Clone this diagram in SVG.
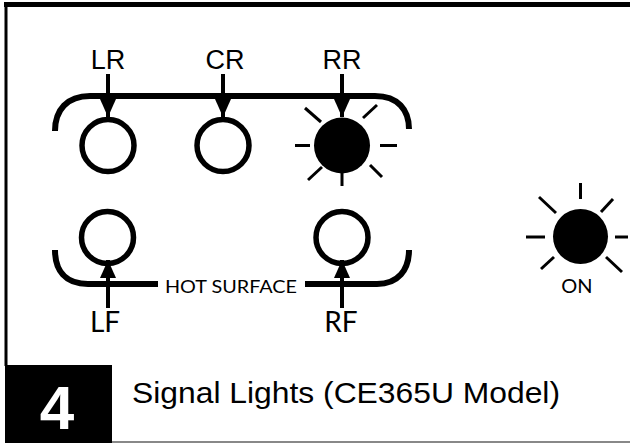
<svg xmlns="http://www.w3.org/2000/svg" width="630" height="443" viewBox="0 0 630 443">
<style>
.ring{fill:none;stroke:#000;stroke-width:5.5}
.lit{fill:#000}
.ray{stroke:#000;stroke-width:3;stroke-linecap:butt}
.br{fill:none;stroke:#000;stroke-width:6}
.ar{stroke:#000;stroke-width:4}
.lbl{font-family:"Liberation Sans",Arial,sans-serif;font-size:27px;fill:#000;text-anchor:middle}
.gil{font-family:Lato,"Open Sans",sans-serif;fill:#000;text-anchor:middle}
</style>
<defs>
<marker id="ah" viewBox="0 0 18 16" refX="18" refY="8" markerWidth="18" markerHeight="16" markerUnits="userSpaceOnUse" orient="auto">
<path d="M0,0 L18,8 L0,16 Z" fill="#000"/>
</marker>
</defs>
<rect width="630" height="443" fill="#fff"/>
<g id="frame">
<line x1="4" y1="4.5" x2="630" y2="4.5" stroke="#000" stroke-width="5"/>
<line x1="6" y1="2" x2="6" y2="366" stroke="#000" stroke-width="3"/>
<rect x="5" y="365" width="107" height="78" fill="#000"/>
<line x1="112" y1="442" x2="630" y2="442" stroke="#888" stroke-width="2"/>
</g>
<g id="brackets">
<path class="br" d="M55,131 C55,110 67,96 90,96 L375,96 C398,96 409,110 409,129"/>
<path class="br" d="M55,250 C55,270 65,284 88,284 L158,284"/>
<path class="br" d="M305,284 L377,284 C398,284 409,270 409,250"/>
</g>
<g id="LR"><circle class="ring" cx="108" cy="145.5" r="26"/><text class="lbl" x="108" y="69">LR</text></g>
<g id="CR"><circle class="ring" cx="223" cy="145.5" r="26"/><text class="lbl" x="225" y="69">CR</text></g>
<g id="RR"><circle class="lit" cx="342" cy="145.5" r="28"/><text class="lbl" x="342" y="69">RR</text>
<g class="ray">
<line x1="295" y1="145.5" x2="310" y2="145.5"/>
<line x1="380" y1="145.5" x2="397" y2="145.5"/>
<line x1="342" y1="173" x2="342" y2="186"/>
<line x1="305" y1="108" x2="321" y2="122"/>
<line x1="363" y1="118" x2="377" y2="105"/>
<line x1="308" y1="180" x2="322" y2="167"/>
<line x1="370" y1="165" x2="382" y2="177"/>
</g></g>
<g id="LF"><circle class="ring" cx="107.5" cy="237.5" r="26"/><text class="gil" x="105" y="332" font-size="28">LF</text></g>
<g id="RF"><circle class="ring" cx="342" cy="237.5" r="26"/><text class="gil" x="341" y="332" font-size="28">RF</text></g>
<g id="hot"><text class="gil" x="231" y="293" font-size="18" textLength="132" lengthAdjust="spacingAndGlyphs">HOT SURFACE</text></g>
<g id="ON"><circle class="lit" cx="580.5" cy="236.5" r="27.5"/><text class="gil" x="577" y="293" font-size="20">ON</text>
<g class="ray">
<line x1="580.5" y1="183" x2="580.5" y2="199"/>
<line x1="526" y1="237" x2="545" y2="237"/>
<line x1="615" y1="237" x2="628" y2="237"/>
<line x1="539" y1="197" x2="556" y2="213"/>
<line x1="601" y1="212" x2="613" y2="199"/>
<line x1="541" y1="269" x2="554" y2="257"/>
<line x1="606" y1="257" x2="622" y2="272"/>
</g></g>
<g id="connectors">
<line class="ar" x1="108" y1="74" x2="108" y2="117" marker-end="url(#ah)"/>
<line class="ar" x1="223" y1="74" x2="223" y2="117" marker-end="url(#ah)"/>
<line class="ar" x1="342" y1="74" x2="342" y2="117" marker-end="url(#ah)"/>
<line class="ar" x1="108" y1="308" x2="108" y2="260" marker-end="url(#ah)"/>
<line class="ar" x1="342" y1="308" x2="342" y2="260" marker-end="url(#ah)"/>
</g>
<g id="title">
<text x="57" y="429" font-family="'Liberation Sans',Arial,sans-serif" font-weight="bold" font-size="62" fill="#fff" text-anchor="middle">4</text>
<text x="132" y="403" font-family="'Liberation Sans',Arial,sans-serif" font-size="29" fill="#000" textLength="428" lengthAdjust="spacingAndGlyphs">Signal Lights  (CE365U Model)</text>
</g>
</svg>
